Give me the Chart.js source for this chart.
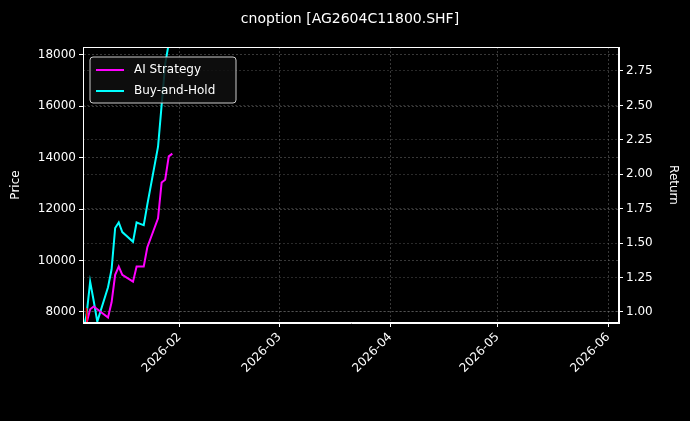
<!DOCTYPE html>
<html><head><meta charset="utf-8">
<script src="https://cdn.jsdelivr.net/npm/chart.js@4"></script>
<style>html,body{margin:0;padding:0;background:#000}#w{width:690px;height:421px}</style>
</head><body><div id="w"><canvas id="c"></canvas></div>
<script>
const dates = ['2026-01-05','2026-01-06','2026-01-07','2026-01-08','2026-01-09','2026-01-12','2026-01-13','2026-01-14','2026-01-15','2026-01-16','2026-01-19','2026-01-20','2026-01-21','2026-01-22','2026-01-23','2026-01-26','2026-01-27','2026-01-28','2026-01-29','2026-01-30'];
const aiReturn = [0.85,0.92,1.02,1.04,1.02,0.96,1.07,1.27,1.33,1.27,1.22,1.33,1.33,1.33,1.47,1.68,1.94,1.96,2.13,2.15];
const bhReturn = [0.85,0.98,1.22,1.08,0.93,1.18,1.31,1.61,1.65,1.58,1.51,1.65,1.64,1.63,1.78,2.20,2.50,2.80,2.95,null];
const priceDates = ['2026-01-06','2026-01-07'];
const priceValues = [8150,2000];
const priceTicks = [8000,10000,12000,14000,16000,18000];
const returnTicks = [1.00,1.25,1.50,1.75,2.00,2.25,2.50,2.75];
const monthTicks = ['2026-02-01','2026-03-01','2026-04-01','2026-05-01','2026-06-01'];
const xMin = '2026-01-05', xMax = '2026-06-04';

const T = s => Date.parse(s + 'T00:00:00Z');
const pts = (ds, vs) => ds.map((d,i)=>({x:T(d), y:vs[i]}));
const font = {family:'DejaVu Sans', size:12};
const white = '#ffffff';
const gridCol = 'rgba(140,140,140,0.4)';

const overlay = {
  id:'overlay',
  afterDraw(chart){
    const ctx = chart.ctx, a = chart.chartArea;
    ctx.save();
    ctx.fillStyle = white; ctx.font = '14px DejaVu Sans';
    ctx.textAlign = 'center'; ctx.textBaseline = 'middle';
    ctx.fillText('cnoption [AG2604C11800.SHF]', 350, 19);
    ctx.strokeStyle = white; ctx.lineWidth = 1;
    ctx.strokeRect(a.left+0.5, a.top+0.5, a.right-a.left-1, a.bottom-a.top-1);
    const lx = a.left+7, ly = a.top+10, lw = 146, lh = 46;
    ctx.fillStyle = 'rgba(15,15,15,0.85)';
    ctx.strokeStyle = '#cccccc';
    ctx.beginPath(); ctx.roundRect(lx, ly, lw, lh, 3); ctx.fill(); ctx.stroke();
    const items = [['AI Strategy','#ff00ff'],['Buy-and-Hold','#00ffff']];
    ctx.font = '12px DejaVu Sans'; ctx.textAlign='left';
    items.forEach((it,i)=>{
      const y = ly + 13 + i*21;
      ctx.strokeStyle = it[1]; ctx.lineWidth = 2;
      ctx.beginPath(); ctx.moveTo(lx+6,y); ctx.lineTo(lx+34,y); ctx.stroke();
      ctx.fillStyle = white; ctx.fillText(it[0], lx+44, y);
    });
    ctx.restore();
  }
};

new Chart(document.getElementById('c'), {
  type:'line',
  data:{datasets:[
    {label:'Price', data:pts(priceDates, priceValues), yAxisID:'y', borderColor:'#ff0000', borderWidth:1.5, pointRadius:0},
    {label:'AI Strategy', data:pts(dates, aiReturn), yAxisID:'y2', borderColor:'#ff00ff', borderWidth:2, pointRadius:0},
    {label:'Buy-and-Hold', data:pts(dates, bhReturn), yAxisID:'y2', borderColor:'#00ffff', borderWidth:2, pointRadius:0}
  ]},
  options:{
    responsive:true, maintainAspectRatio:false, animation:false,
    layout:{padding:{top:47,left:9,right:10,bottom:0}},
    plugins:{legend:{display:false}, tooltip:{enabled:false}},
    scales:{
      x:{type:'linear', min:T(xMin), max:T(xMax),
        afterBuildTicks(s){ s.ticks = monthTicks.map(m=>({value:T(m)})); },
        afterFit(s){ s.height = 98; },
        ticks:{color:white, font:font, minRotation:45, maxRotation:45,
          callback:v=>{const d=new Date(v);return d.getUTCFullYear()+'-'+String(d.getUTCMonth()+1).padStart(2,'0');}},
        grid:{color:gridCol, tickColor:white, tickLength:4},
        border:{color:white, dash:[2,2]}
      },
      y:{position:'left', min:7570, max:18310,
        afterBuildTicks(s){ s.ticks = priceTicks.map(v=>({value:v})); },
        afterFit(s){ s.width = 74; },
        title:{display:true, text:'Price', color:white, font:font, padding:0},
        ticks:{color:white, font:font, callback:v=>String(v)},
        grid:{color:gridCol, tickColor:white, tickLength:4},
        border:{color:white, dash:[2,2]}
      },
      y2:{position:'right', min:0.92, max:2.924,
        afterBuildTicks(s){ s.ticks = returnTicks.map(v=>({value:v})); },
        afterFit(s){ s.width = 61; },
        title:{display:true, text:'Return', color:white, font:font, padding:0},
        ticks:{color:white, font:font, callback:v=>v.toFixed(2)},
        grid:{color:'rgba(140,140,140,0.3)', tickColor:white, tickLength:4},
        border:{color:white, dash:[2,2]}
      }
    }
  },
  plugins:[overlay]
});
</script></body></html>
